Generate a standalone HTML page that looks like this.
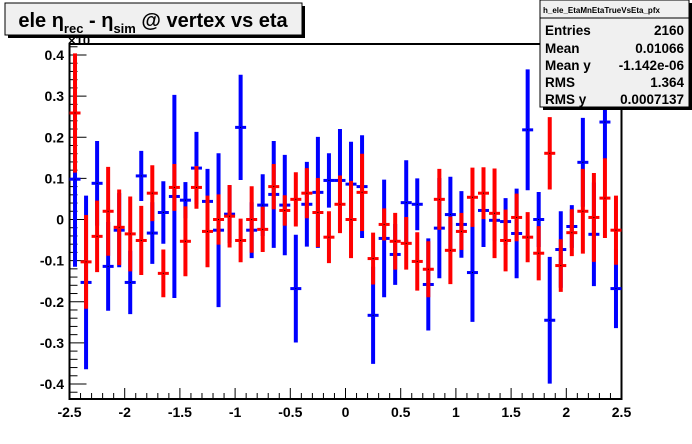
<!DOCTYPE html>
<html><head><meta charset="utf-8"><style>
body{margin:0;background:#fff;}
svg{display:block;font-family:"Liberation Sans",Arial,sans-serif;}
</style></head><body>
<svg id="chart" width="692" height="444" viewBox="0 0 692 444" xmlns="http://www.w3.org/2000/svg">
<rect x="0" y="0" width="692" height="444" fill="#fff"/>
<g id="axes"></g>
<g id="marks"></g>
<text x="68" y="45" font-size="13" font-weight="bold">×10</text>
<g>
<rect x="8" y="6" width="297" height="32" fill="#000"/>
<rect x="5" y="3" width="297" height="32" fill="#f0f0f0" stroke="#000" stroke-width="1"/>
<text x="153" y="27" text-anchor="middle" font-size="20" font-weight="bold">ele η<tspan font-size="13" dy="6">rec</tspan><tspan dy="-6"> - η</tspan><tspan font-size="13" dy="6">sim</tspan><tspan dy="-6"> @ vertex vs eta</tspan></text>
</g>
<g>
<rect x="543" y="3" width="149" height="107" fill="#000"/>
<rect x="540" y="0" width="149" height="107" fill="#f0f0f0" stroke="#000" stroke-width="1"/>
<line x1="540" y1="18" x2="689" y2="18" stroke="#000"/>
<text x="543" y="13" font-size="8" font-weight="bold">h_ele_EtaMnEtaTrueVsEta_pfx</text>
<g font-size="13.5" font-weight="bold">
<text x="545" y="35">Entries</text><text x="684" y="35" text-anchor="end">2160</text>
<text x="545" y="53">Mean</text><text x="684" y="53" text-anchor="end">0.01066</text>
<text x="545" y="70">Mean y</text><text x="684" y="70" text-anchor="end">-1.142e-06</text>
<text x="545" y="87">RMS</text><text x="684" y="87" text-anchor="end">1.364</text>
<text x="545" y="104">RMS y</text><text x="684" y="104" text-anchor="end">0.0007137</text>
</g>
</g>
</svg>
<script>
const xTickLabels = ["-2.5","-2","-1.5","-1","-0.5","0","0.5","1","1.5","2","2.5"];
const yTickLabels = ["-0.4","-0.3","-0.2","-0.1","0","0.1","0.2","0.3","0.4"];
const blueVals = [0.098,-0.153,0.088,-0.114,-0.026,-0.153,0.106,-0.033,0.017,0.056,0.047,0.125,0.044,-0.026,0.013,0.224,-0.026,0.035,0.061,0.035,-0.168,0.037,0.066,0.095,0.095,0.086,0.080,-0.233,-0.046,-0.085,0.041,0.037,-0.158,-0.021,0.012,-0.012,-0.129,0.022,-0.002,-0.005,-0.034,0.218,0.000,-0.245,-0.073,-0.017,0.139,-0.036,0.237,-0.168];
const blueErrs = [0.213,0.211,0.103,0.108,0.09,0.077,0.061,0.075,0.076,0.247,0.044,0.088,0.079,0.187,0.07,0.128,0.068,0.075,0.130,0.122,0.131,0.103,0.135,0.066,0.125,0.103,0.125,0.118,0.143,0.074,0.103,0.063,0.112,0.122,0.092,0.081,0.120,0.089,0.05,0.057,0.109,0.147,0.067,0.154,0.093,0.052,0.108,0.126,0.09,0.096];
const redVals = [0.259,-0.103,-0.041,0.020,-0.019,-0.035,-0.051,0.064,-0.131,0.078,-0.053,0.078,-0.029,0.000,0.008,-0.051,0.000,-0.024,0.080,0.022,0.049,0.064,0.017,-0.043,0.037,0.000,0.066,-0.095,-0.012,-0.053,-0.058,-0.102,-0.121,0.049,-0.075,-0.029,0.054,0.064,0.015,-0.051,0.005,-0.043,-0.082,0.161,-0.112,-0.032,0.020,0.005,0.052,-0.026];
const redErrs = [0.145,0.114,0.087,0.108,0.092,0.091,0.084,0.068,0.058,0.057,0.085,0.052,0.087,0.061,0.076,0.053,0.081,0.055,0.055,0.037,0.066,0.061,0.084,0.063,0.070,0.094,0.094,0.063,0.039,0.069,0.064,0.071,0.068,0.074,0.082,0.045,0.072,0.063,0.109,0.075,0.058,0.061,0.066,0.088,0.064,0.057,0.103,0.108,0.097,0.084];

const NS="http://www.w3.org/2000/svg";
const L=69.5,R=621.5,T=44,B=399;
const xMin=-2.5,xMax=2.5;
function xs(v){return L+(v-xMin)/(xMax-xMin)*(R-L);}
function ys(v){return 219.5-v*411.25;}
function mk(tag,attrs,parent){const e=document.createElementNS(NS,tag);for(const k in attrs)e.setAttribute(k,attrs[k]);parent.appendChild(e);return e;}
const axes=document.getElementById('axes');
const marks=document.getElementById('marks');
let f=mk('rect',{x:L,y:T,width:R-L,height:B-T,fill:'none',stroke:'#000','stroke-width':2},axes);


// x ticks
for(let i=0;i<=50;i++){
  const v=xMin+i*0.1, major=(i%5===0);
  const t=mk('line',{x1:xs(v),x2:xs(v),y1:B,y2:B-(major?11:6),stroke:'#000','stroke-width':1},axes);
  
  
}
xTickLabels.forEach(s=>{
  const t=mk('text',{x:xs(parseFloat(s)),y:417,'text-anchor':'middle','font-size':14,'font-weight':'bold'},axes);
  t.textContent=s;
  
  
});
// y ticks
for(let i=-21;i<=21;i++){
  const v=i*0.02; const y=ys(v); if(y<T||y>B) continue;
  const major=(i%5===0);
  const t=mk('line',{x1:L,x2:L+(major?17:8),y1:y,y2:y,stroke:'#000','stroke-width':1},axes);
  
  
}
yTickLabels.forEach(s=>{
  const t=mk('text',{x:64,y:ys(parseFloat(s))+5,'text-anchor':'end','font-size':14,'font-weight':'bold'},axes);
  t.textContent=s;
  
  
});
function drawSeries(vals,errs,color,name){
  const g=mk('g',{},marks);
  
  
  vals.forEach((v,i)=>{
    const cx=xs(xMin+0.05+i*0.1);
    const y1=Math.max(T,ys(v+errs[i])), y2=Math.min(B,ys(v-errs[i]));
    const e=mk('line',{x1:cx,x2:cx,y1:y1,y2:y2,stroke:color,'stroke-width':4},g);
    
    
    const h=mk('line',{x1:cx-5.5,x2:cx+5.5,y1:ys(v),y2:ys(v),stroke:color,'stroke-width':3},g);
    
    
    const d=mk('rect',{x:cx-0.5,y:ys(v)-0.5,width:1,height:1,fill:'#000'},g);
    
    
  });
}
drawSeries(blueVals,blueErrs,'#0000ff','blue');
drawSeries(redVals,redErrs,'#ff0000','red');
</script>
</body></html>
